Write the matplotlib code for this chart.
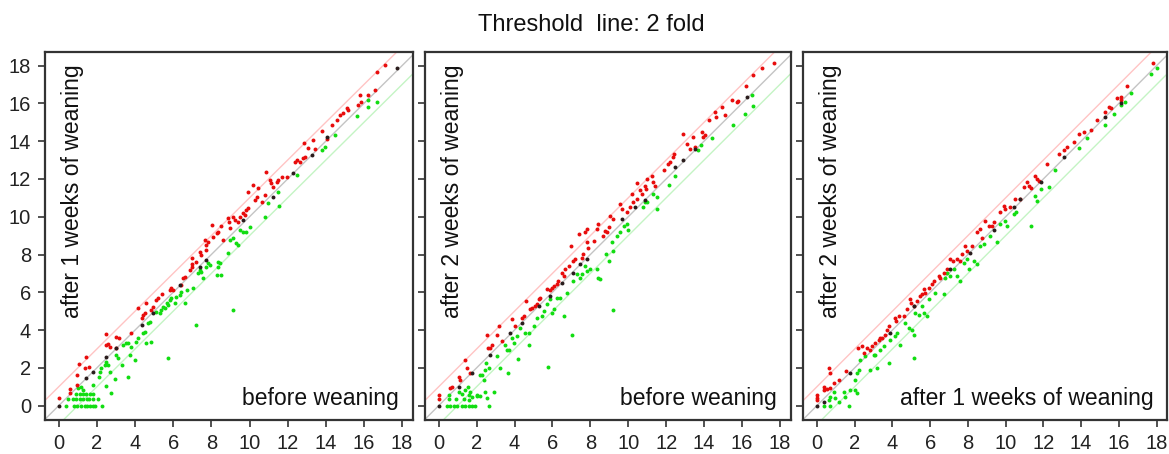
import numpy as np
import matplotlib
matplotlib.use("Agg")
import matplotlib.pyplot as plt

plt.rcParams["font.family"] = ["Liberation Sans", "DejaVu Sans"]

title = "Threshold  line: 2 fold"
fold_line = 1.0  # log2(2)
ticks = [0, 2, 4, 6, 8, 10, 12, 14, 16, 18]

# panel 1: before weaning (x) vs after 1 week (y)
p1_xlabel = "before weaning"
p1_ylabel = "after 1 weeks of weaning"
p1_red = [(0, 0.39), (0.58, 0.88), (0.58, 0.65), (0.98, 1.09), (0.98, 1.62), (1.07, 2.2), (1.42, 2.59),
          (1.36, 1.98), (1.59, 2.06), (2.47, 3.79), (2.47, 3.21), (2.59, 3.26), (2.67, 3.12), (3.02, 3.65),
          (3.16, 3.6), (2.99, 3.03), (3.81, 3.83), (4.13, 5.15), (4.34, 4.62), (4.42, 4.8), (4.56, 5.41),
          (4.51, 4.92), (4.86, 5.06), (4.95, 5.24), (5.12, 5.59), (5.21, 5.68), (5.42, 5.91), (5.82, 6.12),
          (5.91, 6.21), (6.0, 6.1), (6.43, 6.38), (6.52, 6.74), (6.61, 6.83), (6.87, 7.18), (6.96, 7.35),
          (7.01, 7.5), (6.96, 7.8), (7.22, 7.62), (7.4, 8.15), (7.48, 7.97), (7.66, 8.77), (7.74, 8.5),
          (7.83, 8.68), (7.74, 8.24), (8.04, 9.56), (8.09, 8.94), (8.27, 9.12), (8.36, 9.21), (8.5, 9.51),
          (8.62, 8.77), (8.88, 9.91), (8.93, 9.74), (9.0, 9.38), (9.14, 10.0), (9.23, 9.82), (9.41, 9.74),
          (9.49, 10.0), (9.67, 10.18), (9.76, 10.09), (9.84, 10.35), (9.93, 10.44), (9.93, 11.32),
          (10.19, 11.68), (10.28, 10.88), (10.37, 11.06), (10.45, 11.5), (10.63, 10.8), (10.8, 11.15),
          (10.89, 12.38), (11.07, 11.94), (11.15, 11.76), (11.24, 11.59), (11.42, 11.85), (11.5, 11.94),
          (11.68, 12.12), (11.94, 12.12), (12.38, 12.91), (12.47, 13.0), (12.64, 12.91), (12.81, 13.09),
          (12.9, 13.17), (12.87, 13.88), (13.08, 13.62), (13.34, 14.06), (13.43, 13.6), (13.78, 14.55),
          (14.04, 14.14), (14.3, 14.85), (14.56, 15.11), (14.74, 15.38), (14.91, 15.47), (15.09, 15.73),
          (15.17, 15.64), (15.7, 15.91), (15.79, 16.44), (15.87, 16.08), (16.22, 16.44), (16.57, 16.7),
          (16.66, 17.67), (17.1, 18.02)]
p1_black = [(0, 0), (1.45, 1.45), (1.8, 1.8), (2.5, 2.59), (3.02, 3.03), (4.34, 4.27), (4.95, 4.89),
            (6.35, 6.38), (7.4, 7.35), (7.74, 7.71), (9.67, 9.82), (11.24, 11.06), (12.29, 12.29),
            (13.25, 13.26), (14.04, 14.23), (17.71, 17.85)]
p1_green = [(0.4, 0), (0.79, 0), (0.96, 0), (1.19, 0), (1.36, 0), (1.49, 0), (1.63, 0), (1.77, 0), (1.89, 0),
            (2.27, 0), (0.46, 0.35), (0.75, 0.35), (0.89, 0.35), (1.1, 0.35), (1.28, 0.35), (1.49, 0.35),
            (1.59, 0.35), (1.77, 0.35), (2.08, 0.35), (0.93, 0.62), (1.1, 0.62), (1.28, 0.62), (1.45, 0.62),
            (1.63, 0.62), (1.8, 0.62), (1.01, 0.92), (1.19, 1.01), (1.28, 0.83), (1.77, 1.09), (2.12, 1.53),
            (2.15, 1.8), (2.24, 1.98), (2.41, 2.15), (2.5, 2.33), (2.59, 2.15), (2.67, 1.8), (2.47, 1.06),
            (2.76, 0.65), (2.94, 1.39), (2.99, 2.68), (3.11, 2.5), (3.29, 2.15), (3.37, 3.21), (3.55, 3.3),
            (3.64, 3.3), (3.72, 2.68), (3.81, 3.12), (3.99, 2.42), (3.64, 1.5), (4.07, 3.39), (4.16, 3.56),
            (4.42, 3.83), (4.51, 3.92), (4.6, 3.3), (4.86, 3.39), (4.69, 4.36), (4.77, 4.44), (5.12, 4.97),
            (5.3, 4.89), (5.38, 5.06), (5.47, 5.24), (5.56, 5.15), (5.65, 5.41), (5.73, 5.33), (5.82, 5.59),
            (5.91, 5.68), (6.08, 5.41), (6.17, 5.77), (6.35, 5.86), (6.43, 6.03), (6.61, 5.41), (6.7, 6.12),
            (7.05, 6.21), (7.31, 7.0), (7.4, 7.18), (7.48, 7.09), (7.57, 6.74), (7.74, 7.35), (7.83, 7.53),
            (7.92, 7.44), (8.36, 7.62), (8.44, 7.53), (8.36, 7.35), (8.27, 6.91), (8.48, 6.91), (8.88, 8.06),
            (8.97, 8.77), (9.14, 8.85), (9.28, 8.59), (9.41, 8.5), (9.14, 5.06), (7.22, 4.27), (5.73, 2.5),
            (9.49, 9.29), (9.67, 9.21), (9.84, 9.21), (10.02, 9.47), (10.8, 10.0), (10.98, 10.7),
            (11.5, 11.32), (11.56, 10.58), (12.47, 12.2), (13.78, 13.53), (13.95, 13.7), (14.48, 14.32),
            (15.61, 15.33), (16.22, 16.17), (16.22, 15.82), (16.66, 16.08)]

# panel 2: before weaning (x) vs after 2 weeks (y)
p2_xlabel = "before weaning"
p2_ylabel = "after 2 weeks of weaning"
p2_red = [(0, 0.57), (0, 0.34), (0.61, 0.92), (0.7, 1.01), (1.05, 1.54), (1.11, 1.37), (1.4, 2.43),
          (1.49, 1.99), (1.67, 1.72), (2.55, 3.76), (2.58, 3.05), (2.72, 3.05), (2.81, 3.23), (3.07, 3.76),
          (3.2, 4.24), (3.34, 3.4), (3.86, 4.59), (4.04, 4.2), (4.39, 4.65), (4.48, 4.73), (4.62, 5.52),
          (4.83, 5.12), (4.92, 5.18), (5.09, 5.27), (5.18, 5.36), (5.27, 5.62), (5.36, 5.71), (5.71, 6.15),
          (5.85, 6.12), (5.97, 6.24), (6.06, 6.33), (6.23, 6.45), (6.32, 6.6), (6.5, 7.04), (6.59, 6.86),
          (6.67, 7.22), (6.85, 7.39), (6.99, 8.46), (7.11, 7.66), (7.2, 7.75), (7.38, 9.08), (7.55, 7.84),
          (7.6, 8.02), (7.73, 9.2), (7.82, 9.35), (7.9, 8.37), (7.82, 8.64), (8.17, 8.72), (8.34, 9.35),
          (8.43, 9.61), (8.69, 8.99), (8.78, 9.26), (8.87, 9.17), (8.96, 9.43), (9.04, 10.06), (9.22, 9.88),
          (9.57, 10.68), (9.66, 10.41), (9.92, 10.23), (10.1, 10.5), (10.19, 11.21), (10.27, 10.76),
          (10.45, 10.94), (10.48, 11.79), (10.62, 11.39), (10.71, 11.21), (10.89, 11.65), (10.94, 11.47),
          (10.98, 12.01), (11.24, 12.18), (11.33, 11.83), (11.42, 11.65), (11.89, 12.45), (12.12, 12.8),
          (12.21, 12.89), (12.38, 13.16), (12.42, 13.34), (12.87, 14.4), (13.08, 13.87), (13.26, 13.6),
          (13.44, 14.22), (13.52, 13.69), (13.87, 14.49), (13.96, 14.22), (14.05, 14.31), (14.28, 15.11),
          (14.58, 15.55), (14.63, 15.29), (14.93, 15.82), (15.1, 15.38), (15.45, 16.17), (15.72, 16.08),
          (15.81, 16.12), (16.21, 16.92), (16.6, 17.5), (17.04, 17.89), (17.69, 18.12)]
p2_black = [(0, 0), (1.05, 1.01), (1.76, 1.72), (2.72, 2.7), (3.78, 3.85), (4.39, 4.38), (5.27, 5.27),
            (5.88, 5.8), (6.5, 6.51), (7.08, 7.04), (7.46, 7.48), (7.82, 7.75), (9.66, 9.88), (10.36, 10.5),
            (10.89, 10.87), (12.47, 12.62), (12.87, 12.98), (13.52, 13.6), (16.25, 16.35)]
p2_green = [(0.44, 0), (0.61, 0), (0.79, 0), (0.97, 0), (1.23, 0), (1.4, 0), (1.58, 0), (1.76, 0), (1.93, 0),
            (2.63, 0), (0.53, 0.34), (0.93, 0.34), (1.32, 0.34), (1.58, 0.3), (1.76, 0.44), (2.02, 0.51),
            (2.2, 0.51), (2.55, 0.39), (0.53, 0.57), (1.05, 0.74), (1.23, 0.62), (1.4, 0.83), (1.58, 0.57),
            (1.67, 0.74), (2.02, 0.57), (2.46, 0.74), (2.9, 0.74), (1.55, 1.01), (2.2, 1.63), (2.28, 1.63),
            (2.37, 1.37), (2.46, 1.9), (2.63, 1.99), (2.51, 2.25), (3.07, 2.61), (3.25, 1.99), (3.48, 3.23),
            (3.6, 2.96), (3.69, 2.96), (3.64, 1.72), (3.86, 3.58), (3.95, 3.32), (4.13, 3.67), (4.16, 2.46),
            (4.3, 4.11), (4.57, 3.85), (4.74, 3.85), (4.78, 3.23), (5.01, 4.2), (5.18, 4.65), (5.44, 4.73),
            (5.53, 5.0), (5.71, 5.36), (5.74, 2.07), (5.88, 5.62), (5.97, 4.91), (6.06, 5.09), (6.23, 5.71),
            (6.41, 5.71), (6.59, 4.73), (6.76, 5.98), (7.02, 3.76), (7.11, 6.6), (7.29, 6.95), (7.46, 6.77),
            (7.55, 6.95), (7.73, 7.39), (7.82, 7.13), (7.99, 7.22), (8.34, 7.22), (8.43, 6.77), (8.52, 6.69),
            (8.83, 8.02), (8.96, 7.66), (9.13, 8.64), (9.19, 5.04), (9.22, 8.19), (9.4, 8.99), (9.57, 9.17),
            (9.75, 9.52), (9.92, 9.61), (10.01, 9.31), (10.8, 10.5), (10.89, 10.76), (10.98, 10.76),
            (11.33, 11.2), (11.5, 11.03), (11.5, 10.41), (12.17, 11.7), (12.47, 12.18), (13.7, 13.55),
            (13.84, 13.78), (14.4, 14.19), (15.54, 14.84), (16.16, 15.46), (16.51, 16.45), (16.6, 15.85)]

# panel 3: after 1 week (x) vs after 2 weeks (y)
p3_xlabel = "after 1 weeks of weaning"
p3_ylabel = "after 2 weeks of weaning"
p3_red = [(0, 0.57), (0, 0.39), (0, 0.3), (0.35, 1.01), (0.35, 0.83), (0.53, 0.87), (0.62, 1.99),
          (0.67, 1.72), (0.71, 0.92), (0.88, 1.19), (1.15, 1.37), (1.56, 1.81), (2.16, 3.05), (2.39, 3.14),
          (2.48, 2.78), (2.65, 3.05), (2.83, 2.96), (2.92, 3.14), (3.09, 3.32), (3.27, 3.49), (3.36, 3.58),
          (3.45, 3.6), (3.62, 3.76), (3.71, 4.03), (3.8, 4.2), (4.15, 4.65), (4.21, 4.47), (4.33, 4.73),
          (4.6, 4.73), (4.77, 5.09), (4.92, 5.62), (4.99, 5.44), (5.13, 5.27), (5.3, 5.53), (5.48, 5.8),
          (5.57, 5.89), (5.66, 6.15), (5.75, 5.98), (5.92, 6.24), (6.1, 6.42), (6.19, 6.6), (6.45, 6.86),
          (6.54, 6.77), (6.72, 7.04), (6.9, 7.22), (7.07, 7.75), (7.21, 7.66), (7.43, 7.75), (7.6, 7.66),
          (7.69, 8.02), (7.87, 8.46), (7.96, 8.2), (8.22, 8.45), (8.49, 9.17), (8.66, 9.35), (8.75, 8.9),
          (8.93, 9.79), (9.11, 9.52), (9.28, 9.52), (9.37, 9.7), (9.72, 10.23), (9.9, 10.59), (9.99, 10.41),
          (10.25, 10.5), (10.52, 10.94), (10.78, 10.94), (10.96, 11.56), (11.14, 11.83), (11.23, 11.65),
          (11.32, 11.5), (11.58, 12.18), (11.67, 12.01), (11.76, 11.9), (12.2, 12.8), (12.82, 13.34),
          (13.08, 13.51), (13.26, 13.69), (13.61, 13.96), (13.88, 14.4), (14.14, 14.49), (14.5, 14.58),
          (14.85, 15.11), (15.29, 15.55), (15.47, 15.82), (15.56, 15.73), (15.91, 16.26), (16.09, 16.35),
          (16.12, 16.17), (16.44, 16.94), (17.82, 18.12)]
p3_black = [(0, 0), (0.35, 0.21), (1.77, 1.72), (3.89, 3.85), (5.13, 5.27), (7.07, 7.22), (8.13, 8.1),
            (9.37, 9.31), (10.43, 10.5), (10.78, 10.94), (11.85, 11.83), (13.08, 13.16), (15.29, 15.29),
            (16.09, 16.0)]
p3_green = [(0.35, 0), (0.71, 0), (0.62, 0.3), (0.71, 0.48), (0.88, 0.74), (0.97, 0.39), (1.15, 0.21),
            (1.41, 0.74), (1.5, 0.48), (1.68, 0), (1.77, 0.83), (2.03, 0.83), (2.12, 0.66), (2.12, 1.72),
            (2.21, 1.9), (2.03, 1.37), (2.3, 2.43), (2.56, 2.61), (2.83, 1.9), (3.01, 2.7), (3.09, 2.7),
            (3.18, 1.99), (3.36, 2.96), (3.54, 3.14), (3.8, 2.25), (3.89, 3.49), (4.15, 3.67), (4.24, 3.85),
            (4.42, 3.23), (4.69, 4.38), (4.86, 4.11), (5.04, 4.03), (5.13, 3.76), (5.13, 2.52), (5.22, 4.91),
            (5.39, 4.82), (5.57, 5.27), (5.66, 4.91), (5.83, 4.73), (5.92, 5.62), (6.28, 5.98), (6.72, 5.89),
            (6.81, 6.77), (6.9, 7.04), (7.07, 6.86), (7.25, 7.22), (7.43, 6.86), (7.6, 6.6), (7.78, 7.57),
            (7.96, 7.75), (8.04, 7.22), (8.31, 7.66), (8.49, 7.48), (8.66, 8.46), (8.84, 8.55), (9.19, 8.99),
            (9.55, 8.64), (9.72, 9.61), (9.99, 9.79), (10.08, 9.52), (10.43, 10.15), (10.57, 10.23),
            (11.32, 9.52), (11.58, 11.12), (11.67, 10.85), (11.85, 11.47), (12.29, 11.56), (12.64, 12.45),
            (13.88, 13.65), (14.32, 14.15), (15.29, 14.84), (15.74, 15.46), (16.09, 15.91), (16.35, 16.08),
            (16.62, 16.53), (17.68, 17.56), (18.0, 17.85)]

panels = [
    (p1_red, p1_black, p1_green, p1_xlabel, p1_ylabel),
    (p2_red, p2_black, p2_green, p2_xlabel, p2_ylabel),
    (p3_red, p3_black, p3_green, p3_xlabel, p3_ylabel),
]

fig = plt.figure(figsize=(11.69, 4.54), dpi=100)
lefts = [0.0385, 0.3636, 0.6872]
widths = [0.3148, 0.3128, 0.3114]

for i, (red, black, green, xlab, ylab) in enumerate(panels):
    ax = fig.add_axes([lefts[i], 0.0749, widths[i], 0.8106])
    ax.set_xlim(-0.72, 18.57)
    ax.set_ylim(-0.76, 18.72)

    # identity line and the two fold-change thresholds
    line = np.array([-2, 21])
    ax.plot(line, line, color="#c4c4c4", lw=1.0, zorder=1)
    ax.plot(line, line + fold_line, color="#ffc4c4", lw=1.0, zorder=1)
    ax.plot(line, line - fold_line, color="#c4f4c4", lw=1.0, zorder=1)

    for pts, col in [(green, "#11dd11"), (red, "#e80c0c"), (black, "#2a1c1c")]:
        arr = np.array(pts)
        ax.scatter(arr[:, 0], arr[:, 1], s=8, color=col, linewidths=0, zorder=3)

    ax.set_xticks(ticks)
    ax.set_yticks(ticks)
    ax.tick_params(axis="both", direction="out", length=5, width=1.2, color="#333333",
                   labelsize=14.5, labelcolor="#222222")
    ax.tick_params(axis="x", pad=5)
    ax.tick_params(axis="y", pad=5)
    if i > 0:
        ax.set_yticklabels([])
    for sp in ax.spines.values():
        sp.set_linewidth(1.6)
        sp.set_color("#333333")

    ax.text(0.044, 0.965, ylab, transform=ax.transAxes, rotation=90,
            ha="left", va="top", fontsize=16.5, color="#111111")
    ax.text(0.962, 0.04, xlab, transform=ax.transAxes,
            ha="right", va="baseline", fontsize=16.5, color="#111111")

fig.text(0.506, 0.945, title, ha="center", va="center", fontsize=17, color="#111111")

fig.savefig("out.png", dpi=100)
